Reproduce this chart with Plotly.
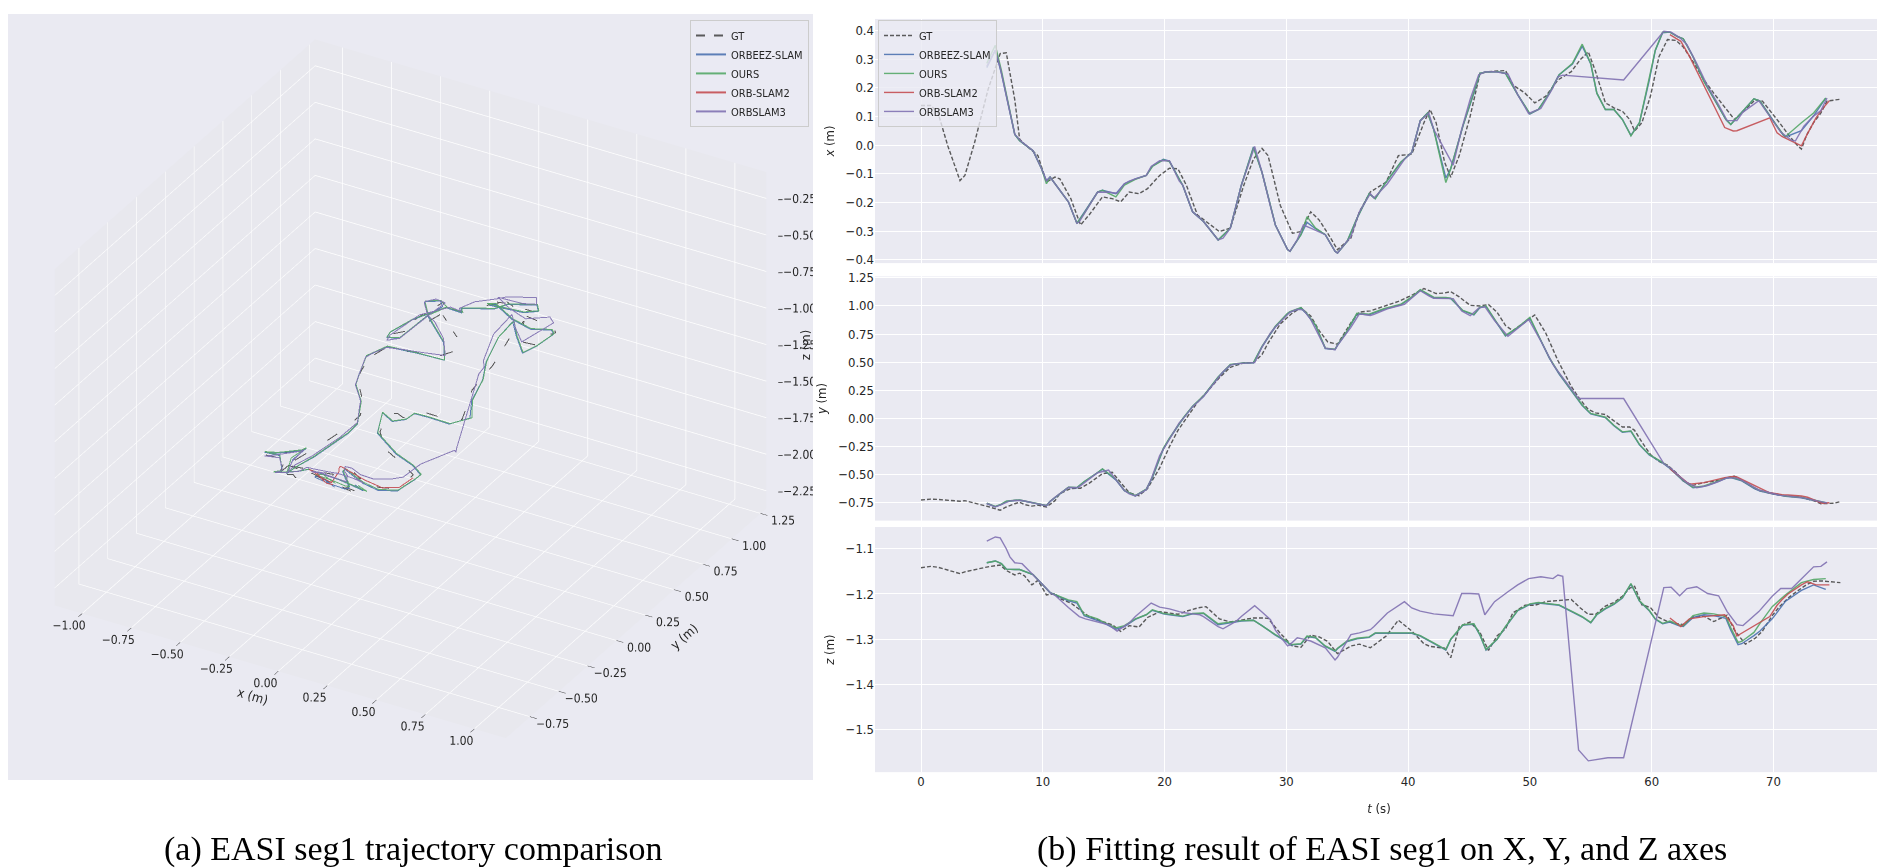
import plotly.graph_objects as go

# ---- ground truth (time in s, position in m) ----
gt_t = [0.0, 0.8, 1.4, 2.2, 3.2, 3.6, 4.4, 5.5, 6.5, 7.0,
        7.7, 8.1, 8.5, 9.1, 9.6, 10.3, 11.0, 11.4, 12.3, 13.1,
        13.8, 14.9, 15.7, 16.4, 17.1, 17.9, 18.6, 19.6, 20.4, 21.1,
        21.8, 22.7, 23.4, 24.5, 25.4, 26.5, 27.3, 28.0, 28.5, 29.5,
        30.5, 31.2, 32.0, 32.7, 33.4, 34.2, 35.3, 36.0, 36.9, 38.2,
        39.2, 40.3, 41.3, 41.8, 42.3, 43.0, 43.5, 44.2, 45.1, 45.9,
        46.6, 47.3, 48.0, 48.6, 49.6, 50.4, 51.3, 52.3, 53.4, 54.1,
        54.8, 55.4, 56.2, 56.9, 57.6, 58.2, 58.6, 59.2, 59.9, 60.6,
        61.3, 62.0, 62.6, 63.4, 64.3, 65.1, 66.2, 66.8, 67.7, 68.5,
        69.1, 69.9, 70.5, 71.3, 72.0, 72.3, 72.7, 73.3, 73.9, 74.4,
        75.0, 75.5]
gt_x = [0.138, 0.138, 0.112, -0.003, -0.124, -0.106, 0.009, 0.193, 0.319, 0.322,
        0.158, 0.020, 0.003, -0.020, -0.037, -0.129, -0.112, -0.118, -0.187, -0.279,
        -0.244, -0.181, -0.187, -0.198, -0.164, -0.170, -0.152, -0.106, -0.081, -0.083,
        -0.141, -0.244, -0.267, -0.302, -0.290, -0.141, -0.049, -0.012, -0.037, -0.210,
        -0.308, -0.302, -0.233, -0.262, -0.308, -0.365, -0.325, -0.233, -0.164, -0.129,
        -0.037, -0.032, 0.078, 0.124, 0.078, -0.060, -0.112, -0.037, 0.101, 0.250,
        0.256, 0.258, 0.260, 0.210, 0.181, 0.147, 0.170, 0.227, 0.256, 0.296,
        0.325, 0.256, 0.147, 0.130, 0.118, 0.089, 0.049, 0.078, 0.170, 0.308,
        0.368, 0.365, 0.342, 0.291, 0.227, 0.181, 0.124, 0.089, 0.124, 0.158,
        0.153, 0.112, 0.078, 0.032, -0.003, -0.014, 0.032, 0.078, 0.112, 0.153,
        0.156, 0.160]
gt_y = [-0.724, -0.716, -0.719, -0.728, -0.735, -0.730, -0.750, -0.782, -0.815, -0.786,
        -0.757, -0.744, -0.765, -0.778, -0.770, -0.786, -0.730, -0.667, -0.622, -0.619,
        -0.576, -0.490, -0.478, -0.568, -0.660, -0.686, -0.622, -0.439, -0.250, -0.105,
        0.008, 0.143, 0.226, 0.362, 0.455, 0.494, 0.497, 0.568, 0.670, 0.840,
        0.937, 0.982, 0.910, 0.780, 0.680, 0.660, 0.850, 0.945, 0.956, 1.005,
        1.040, 1.095, 1.154, 1.133, 1.110, 1.115, 1.127, 1.080, 1.005, 1.000,
        1.012, 0.945, 0.826, 0.780, 0.860, 0.920, 0.760, 0.515, 0.285, 0.172,
        0.080, 0.050, 0.035, -0.020, -0.076, -0.076, -0.105, -0.210, -0.320, -0.381,
        -0.415, -0.480, -0.555, -0.594, -0.570, -0.558, -0.530, -0.512, -0.568, -0.624,
        -0.648, -0.670, -0.680, -0.690, -0.698, -0.700, -0.712, -0.730, -0.757, -0.758,
        -0.753, -0.738]
gt_z = [-1.142, -1.139, -1.141, -1.147, -1.155, -1.151, -1.146, -1.140, -1.136, -1.148,
        -1.158, -1.154, -1.160, -1.180, -1.170, -1.202, -1.199, -1.210, -1.220, -1.235,
        -1.250, -1.261, -1.268, -1.283, -1.270, -1.273, -1.252, -1.239, -1.242, -1.245,
        -1.238, -1.231, -1.228, -1.255, -1.262, -1.257, -1.253, -1.253, -1.254, -1.287,
        -1.315, -1.318, -1.291, -1.295, -1.305, -1.332, -1.315, -1.311, -1.319, -1.293,
        -1.258, -1.282, -1.310, -1.316, -1.317, -1.320, -1.341, -1.272, -1.262, -1.285,
        -1.325, -1.293, -1.277, -1.242, -1.225, -1.225, -1.217, -1.214, -1.212, -1.230,
        -1.245, -1.245, -1.227, -1.219, -1.205, -1.187, -1.183, -1.224, -1.230, -1.252,
        -1.261, -1.265, -1.268, -1.251, -1.249, -1.261, -1.247, -1.280, -1.311, -1.298,
        -1.282, -1.248, -1.228, -1.207, -1.192, -1.187, -1.180, -1.172, -1.171, -1.172,
        -1.173, -1.175]

# ---- OURS ----
ours_t = [5.4, 6.1, 6.6, 7.0, 7.7, 8.1, 9.2, 9.9, 10.3, 10.6,
          12.1, 12.8, 13.4, 14.5, 14.9, 16.0, 16.7, 17.6, 18.5, 19.0,
          19.9, 20.4, 21.5, 22.3, 23.2, 24.4, 25.4, 26.3, 27.3, 28.0,
          29.1, 30.1, 30.3, 31.2, 31.7, 32.4, 33.2, 34.0, 34.2, 35.0,
          35.8, 36.8, 37.3, 38.0, 39.4, 40.3, 41.0, 41.6, 42.1, 43.1,
          43.5, 44.5, 45.4, 45.9, 46.4, 47.3, 48.0, 49.0, 50.0, 50.7,
          51.6, 52.4, 53.5, 54.3, 55.0, 55.5, 56.2, 56.9, 57.6, 58.3,
          59.0, 59.8, 60.3, 60.9, 61.5, 62.2, 62.6, 63.4, 64.3, 65.1,
          66.1, 66.5, 67.1, 67.4, 68.4, 68.9, 69.9, 70.8, 71.0, 72.3,
          73.3, 74.3]
ours_x = [0.285, 0.348, 0.260, 0.180, 0.037, 0.015, -0.020, -0.083, -0.135, -0.112,
          -0.198, -0.273, -0.238, -0.164, -0.158, -0.181, -0.140, -0.120, -0.106, -0.075,
          -0.052, -0.058, -0.141, -0.233, -0.267, -0.331, -0.290, -0.141, -0.009, -0.095,
          -0.279, -0.365, -0.371, -0.313, -0.250, -0.290, -0.313, -0.371, -0.377, -0.336,
          -0.256, -0.170, -0.187, -0.141, -0.060, -0.026, 0.085, 0.112, 0.055, -0.131,
          -0.083, 0.066, 0.181, 0.250, 0.255, 0.256, 0.250, 0.176, 0.110, 0.124,
          0.181, 0.245, 0.285, 0.352, 0.285, 0.181, 0.124, 0.124, 0.089, 0.032,
          0.078, 0.227, 0.331, 0.394, 0.394, 0.377, 0.371, 0.308, 0.222, 0.164,
          0.089, 0.072, 0.100, 0.112, 0.161, 0.153, 0.089, 0.037, 0.030, 0.078,
          0.112, 0.164]
ours_y = [-0.753, -0.782, -0.760, -0.735, -0.726, -0.724, -0.748, -0.765, -0.773, -0.735,
          -0.610, -0.613, -0.560, -0.480, -0.447, -0.540, -0.640, -0.686, -0.628, -0.520,
          -0.265, -0.175, 0.000, 0.110, 0.201, 0.370, 0.480, 0.492, 0.497, 0.640,
          0.820, 0.935, 0.950, 0.985, 0.930, 0.830, 0.625, 0.615, 0.655, 0.780,
          0.935, 0.927, 0.950, 0.975, 1.015, 1.080, 1.145, 1.110, 1.078, 1.075,
          1.070, 0.960, 0.925, 0.990, 1.000, 0.850, 0.738, 0.811, 0.898, 0.740,
          0.540, 0.400, 0.240, 0.120, 0.045, 0.030, 0.012, -0.060, -0.119, -0.110,
          -0.230, -0.320, -0.350, -0.390, -0.440, -0.510, -0.550, -0.612, -0.599, -0.570,
          -0.527, -0.520, -0.540, -0.550, -0.615, -0.640, -0.665, -0.686, -0.688, -0.700,
          -0.725, -0.748]
ours_z = [-1.131, -1.127, -1.133, -1.145, -1.146, -1.146, -1.157, -1.177, -1.190, -1.197,
          -1.213, -1.217, -1.246, -1.255, -1.261, -1.275, -1.270, -1.255, -1.246, -1.235,
          -1.243, -1.245, -1.249, -1.243, -1.242, -1.266, -1.262, -1.259, -1.258, -1.270,
          -1.290, -1.305, -1.312, -1.310, -1.293, -1.296, -1.315, -1.326, -1.320, -1.304,
          -1.298, -1.295, -1.286, -1.286, -1.286, -1.286, -1.292, -1.300, -1.308, -1.323,
          -1.300, -1.268, -1.266, -1.290, -1.323, -1.300, -1.272, -1.236, -1.222, -1.219,
          -1.222, -1.224, -1.239, -1.250, -1.263, -1.245, -1.232, -1.222, -1.208, -1.177,
          -1.215, -1.236, -1.255, -1.265, -1.260, -1.268, -1.270, -1.248, -1.242, -1.244,
          -1.250, -1.275, -1.307, -1.305, -1.285, -1.265, -1.228, -1.207, -1.202, -1.175,
          -1.168, -1.166]

# ---- ORBEEZ-SLAM (same time stamps as OURS) ----
orbeez_t = ours_t
orbeez_x = [0.270, 0.331, 0.250, 0.175, 0.037, 0.015, -0.020, -0.083, -0.125, -0.112,
            -0.198, -0.273, -0.236, -0.164, -0.158, -0.170, -0.135, -0.118, -0.106, -0.073,
            -0.050, -0.056, -0.141, -0.233, -0.267, -0.331, -0.290, -0.141, -0.007, -0.095,
            -0.279, -0.365, -0.371, -0.313, -0.270, -0.292, -0.313, -0.371, -0.377, -0.336,
            -0.256, -0.170, -0.187, -0.141, -0.060, -0.026, 0.085, 0.112, 0.055, -0.115,
            -0.083, 0.066, 0.181, 0.250, 0.255, 0.256, 0.250, 0.176, 0.108, 0.124,
            0.181, 0.245, 0.283, 0.345, 0.283, 0.181, 0.124, 0.124, 0.089, 0.034,
            0.078, 0.225, 0.330, 0.392, 0.394, 0.377, 0.371, 0.308, 0.222, 0.164,
            0.089, 0.072, 0.100, 0.112, 0.161, 0.153, 0.089, 0.035, 0.028, 0.050,
            0.102, 0.164]
orbeez_y = [-0.755, -0.785, -0.762, -0.737, -0.728, -0.726, -0.750, -0.767, -0.775, -0.737,
            -0.612, -0.615, -0.562, -0.482, -0.450, -0.545, -0.642, -0.688, -0.630, -0.525,
            -0.270, -0.178, -0.003, 0.107, 0.198, 0.366, 0.476, 0.490, 0.495, 0.636,
            0.815, 0.930, 0.945, 0.980, 0.925, 0.826, 0.622, 0.612, 0.650, 0.775,
            0.930, 0.922, 0.945, 0.970, 1.010, 1.075, 1.140, 1.105, 1.072, 1.070,
            1.065, 0.955, 0.920, 0.985, 0.995, 0.845, 0.733, 0.806, 0.890, 0.735,
            0.535, 0.395, 0.236, 0.116, 0.041, 0.026, 0.008, -0.064, -0.123, -0.114,
            -0.234, -0.324, -0.354, -0.394, -0.444, -0.515, -0.555, -0.616, -0.603, -0.574,
            -0.531, -0.524, -0.544, -0.554, -0.620, -0.645, -0.668, -0.690, -0.692, -0.704,
            -0.730, -0.752]
orbeez_z = [-1.131, -1.127, -1.133, -1.145, -1.146, -1.146, -1.157, -1.177, -1.190, -1.197,
            -1.215, -1.220, -1.248, -1.258, -1.263, -1.278, -1.272, -1.256, -1.246, -1.236,
            -1.244, -1.246, -1.250, -1.244, -1.243, -1.268, -1.264, -1.260, -1.258, -1.270,
            -1.291, -1.307, -1.313, -1.311, -1.294, -1.297, -1.316, -1.327, -1.321, -1.305,
            -1.299, -1.296, -1.287, -1.287, -1.287, -1.287, -1.293, -1.301, -1.309, -1.324,
            -1.301, -1.269, -1.267, -1.291, -1.324, -1.301, -1.273, -1.237, -1.223, -1.220,
            -1.223, -1.225, -1.240, -1.251, -1.264, -1.246, -1.233, -1.223, -1.209, -1.178,
            -1.216, -1.237, -1.256, -1.266, -1.262, -1.270, -1.272, -1.252, -1.246, -1.248,
            -1.254, -1.280, -1.312, -1.310, -1.292, -1.282, -1.255, -1.222, -1.216, -1.192,
            -1.180, -1.190]

# ---- ORB-SLAM2 (only tracked near the end) ----
orbslam2_t = [61.5, 62.4, 63.1, 64.3, 65.2, 66.0, 66.7, 67.0, 69.7, 70.3,
              70.7, 71.2, 72.3, 72.8, 73.5, 74.0, 74.6]
orbslam2_x = [0.385, 0.362, 0.310, 0.210, 0.130, 0.061, 0.049, 0.050, 0.095, 0.043,
              0.030, 0.020, -0.003, 0.040, 0.095, 0.125, 0.155]
orbslam2_y = [-0.445, -0.525, -0.584, -0.570, -0.545, -0.525, -0.515, -0.520, -0.660, -0.671,
              -0.676, -0.680, -0.688, -0.700, -0.735, -0.753, -0.748]
orbslam2_z = [-1.253, -1.272, -1.255, -1.250, -1.248, -1.246, -1.270, -1.293, -1.250, -1.225,
              -1.213, -1.200, -1.180, -1.173, -1.180, -1.180, -1.180]

# ---- ORBSLAM3 ----
orbslam3_t = [5.4, 6.1, 6.5, 7.0, 7.3, 7.7, 8.3, 9.2, 9.9, 10.3,
              10.6, 11.0, 12.1, 12.8, 13.0, 13.5, 14.5, 15.4, 16.1, 16.7,
              17.1, 17.6, 18.5, 18.9, 19.6, 20.4, 21.2, 21.5, 22.3, 22.9,
              23.2, 24.4, 24.8, 25.4, 25.9, 26.3, 27.4, 28.0, 28.7, 29.1,
              30.1, 30.3, 30.9, 31.4, 32.0, 33.2, 34.0, 34.2, 35.3, 36.0,
              36.9, 37.2, 38.3, 39.7, 40.3, 41.0, 41.7, 42.1, 43.7, 44.4,
              45.1, 45.8, 46.3, 47.1, 48.2, 49.0, 49.9, 50.9, 51.9, 52.3,
              52.7, 54.0, 54.8, 56.4, 57.7, 61.0, 61.6, 62.3, 62.9, 63.7,
              64.6, 65.5, 66.2, 67.0, 67.5, 68.8, 69.9, 70.6, 71.5, 71.8,
              72.5, 73.3, 73.9, 74.4]
orbslam3_x = [0.275, 0.331, 0.270, 0.175, 0.115, 0.037, 0.010, -0.020, -0.083, -0.125,
              -0.112, -0.135, -0.198, -0.273, -0.268, -0.233, -0.164, -0.165, -0.168, -0.135,
              -0.126, -0.118, -0.106, -0.075, -0.055, -0.055, -0.125, -0.141, -0.233, -0.255,
              -0.267, -0.331, -0.325, -0.290, -0.210, -0.141, -0.005, -0.095, -0.215, -0.279,
              -0.365, -0.371, -0.330, -0.279, -0.290, -0.313, -0.371, -0.377, -0.320, -0.233,
              -0.170, -0.185, -0.135, -0.050, -0.026, 0.085, 0.112, 0.055, -0.070, 0.055,
              0.160, 0.245, 0.255, 0.256, 0.248, 0.176, 0.110, 0.128, 0.200, 0.238,
              0.244, 0.240, 0.238, 0.232, 0.227, 0.397, 0.394, 0.375, 0.350, 0.285,
              0.205, 0.140, 0.085, 0.085, 0.115, 0.155, 0.089, 0.045, 0.016, 0.014,
              0.066, 0.101, 0.120, 0.164]
orbslam3_y = [-0.755, -0.785, -0.770, -0.742, -0.732, -0.728, -0.728, -0.750, -0.768, -0.775,
              -0.738, -0.700, -0.612, -0.615, -0.605, -0.565, -0.482, -0.458, -0.555, -0.640,
              -0.670, -0.688, -0.632, -0.540, -0.330, -0.180, -0.040, -0.005, 0.105, 0.165,
              0.195, 0.360, 0.415, 0.475, 0.488, 0.490, 0.497, 0.635, 0.760, 0.812,
              0.930, 0.945, 0.970, 0.965, 0.880, 0.625, 0.612, 0.650, 0.810, 0.930,
              0.915, 0.925, 0.975, 1.015, 1.070, 1.135, 1.090, 1.068, 1.065, 0.955,
              0.913, 0.980, 0.995, 0.870, 0.730, 0.800, 0.880, 0.690, 0.480, 0.420,
              0.365, 0.177, 0.177, 0.178, 0.177, -0.400, -0.445, -0.515, -0.570, -0.615,
              -0.595, -0.560, -0.525, -0.530, -0.555, -0.635, -0.665, -0.683, -0.692, -0.695,
              -0.705, -0.725, -0.742, -0.750]
orbslam3_z = [-1.083, -1.074, -1.076, -1.100, -1.118, -1.131, -1.133, -1.157, -1.177, -1.188,
              -1.197, -1.203, -1.230, -1.245, -1.250, -1.255, -1.262, -1.268, -1.282, -1.272,
              -1.264, -1.250, -1.228, -1.220, -1.229, -1.233, -1.239, -1.241, -1.244, -1.246,
              -1.250, -1.272, -1.277, -1.268, -1.260, -1.250, -1.226, -1.240, -1.257, -1.280,
              -1.315, -1.312, -1.297, -1.300, -1.304, -1.319, -1.346, -1.340, -1.290, -1.286,
              -1.279, -1.272, -1.242, -1.217, -1.231, -1.238, -1.242, -1.244, -1.248, -1.199,
              -1.199, -1.200, -1.246, -1.217, -1.195, -1.180, -1.166, -1.162, -1.166, -1.158,
              -1.161, -1.545, -1.569, -1.562, -1.562, -1.186, -1.185, -1.204, -1.188, -1.184,
              -1.199, -1.204, -1.239, -1.268, -1.270, -1.239, -1.205, -1.188, -1.188, -1.180,
              -1.162, -1.140, -1.139, -1.129]

# 3D axis limits and ticks
x3_range = [-1.14, 1.16]
y3_range = [-0.96, 1.30]
z3_range = [-2.37, -0.07]
x3_ticks = [-1.0, -0.75, -0.5, -0.25, 0.0, 0.25, 0.5, 0.75, 1.0]
y3_ticks = [-0.75, -0.5, -0.25, 0.0, 0.25, 0.5, 0.75, 1.0, 1.25]
z3_ticks = [-2.25, -2.0, -1.75, -1.5, -1.25, -1.0, -0.75, -0.5, -0.25]

series = [
    ("GT", gt_t, gt_x, gt_y, gt_z, "#4a4a4a", "dash"),
    ("ORBEEZ-SLAM", orbeez_t, orbeez_x, orbeez_y, orbeez_z, "#4C72B0", "solid"),
    ("OURS", ours_t, ours_x, ours_y, ours_z, "#55A868", "solid"),
    ("ORB-SLAM2", orbslam2_t, orbslam2_x, orbslam2_y, orbslam2_z, "#C44E52", "solid"),
    ("ORBSLAM3", orbslam3_t, orbslam3_x, orbslam3_y, orbslam3_z, "#8172B2", "solid"),
]

W, H = 1885, 868
BG = "#EAEAF2"
SANS = "Liberation Sans Narrow, DejaVu Sans Condensed, Arial Narrow, sans-serif"
TXT = "#262626"
tick_font = dict(family=SANS, size=13, color=TXT)

fig = go.Figure()

# 3D trajectories
for name, t, xs, ys, zs, color, dash in series:
    fig.add_trace(go.Scatter3d(
        x=xs, y=ys, z=zs, mode="lines", name=name, legend="legend2",
        line=dict(color=color, width=2, dash=dash), opacity=0.9, hoverinfo="skip"
    ))

# z tick labels on the right-hand vertical edge, as matplotlib draws them
fig.add_trace(go.Scatter3d(
    x=[x3_range[1]] * len(z3_ticks), y=[y3_range[1]] * len(z3_ticks), z=z3_ticks,
    mode="text", text=["\u2013" + f"{v:.2f}".replace("-", "\u2212") for v in z3_ticks],
    textposition="middle right", textfont=dict(family=SANS, size=12, color=TXT),
    showlegend=False, hoverinfo="skip"
))

# per-axis curves: x on top, y in the middle, z at the bottom
panels = [(2, "x3", "y3"), (3, "x2", "y2"), (4, "x", "y")]
for name, t, xs, ys, zs, color, dash in series:
    cols = {2: xs, 3: ys, 4: zs}
    for k, xa, ya in panels:
        fig.add_trace(go.Scatter(
            x=t, y=cols[k], mode="lines", name=name, xaxis=xa, yaxis=ya,
            legendgroup=name, showlegend=(k == 2),
            line=dict(color=color, width=1.4, dash="4px,2px" if dash == "dash" else "solid"),
            opacity=0.9
        ))

x_dom = [867 / W, 1875 / W]
t_ticks = [0, 10, 20, 30, 40, 50, 60, 70]
common_x = dict(domain=x_dom, range=[-3.78, 79.0], tickvals=t_ticks, showgrid=True,
                gridcolor="white", gridwidth=1.3, zeroline=False, showline=False,
                tickfont=tick_font, ticks="")
common_y = dict(showgrid=True, gridcolor="white", gridwidth=1.3, zeroline=False,
                showline=False, tickfont=tick_font, ticks="", title_standoff=8)


def pix(top, bottom):
    return [1 - bottom / H, 1 - top / H]


axis3d = dict(showbackground=True, backgroundcolor="#E8E8EE", gridcolor="white",
              gridwidth=1.5, zeroline=False, showline=False, showspikes=False,
              tickfont=dict(family=SANS, size=12, color=TXT), tickangle=0,
              ticks="outside", ticklen=8, tickcolor=TXT, tickformat=".2f")

k_eye = 2.0
s_box = 1.36
fig.update_layout(
    width=W, height=H, margin=dict(l=0, r=0, t=0, b=0),
    paper_bgcolor="white", plot_bgcolor=BG,
    showlegend=True,
    xaxis=dict(common_x, anchor="y",
               title=dict(text="<i>t</i> (s)", font=dict(family=SANS, size=13, color=TXT))),
    xaxis2=dict(common_x, anchor="y2", matches="x", showticklabels=False),
    xaxis3=dict(common_x, anchor="y3", matches="x", showticklabels=False),
    yaxis=dict(common_y, domain=pix(519, 767), range=[-1.594, -1.052],
               tickvals=[-1.5, -1.4, -1.3, -1.2, -1.1], tickformat=".1f",
               title=dict(text="<i>z</i> (m)", font=dict(family=SANS, size=13, color=TXT))),
    yaxis2=dict(common_y, domain=pix(265.5, 512.5), range=[-0.907, 1.262],
                tickvals=[-0.75, -0.5, -0.25, 0, 0.25, 0.5, 0.75, 1.0, 1.25], tickformat=".2f",
                title=dict(text="<i>y</i> (m)", font=dict(family=SANS, size=13, color=TXT))),
    yaxis3=dict(common_y, domain=pix(5, 252), range=[-0.412, 0.44],
                tickvals=[-0.4, -0.3, -0.2, -0.1, 0, 0.1, 0.2, 0.3, 0.4], tickformat=".1f",
                title=dict(text="<i>x</i> (m)", font=dict(family=SANS, size=13, color=TXT))),
    legend=dict(x=870 / W, y=1 - 6 / H, xanchor="left", yanchor="top",
                bgcolor="rgba(234,234,242,0.8)", bordercolor="#cccccc", borderwidth=1,
                font=dict(family=SANS, size=11, color=TXT), tracegroupgap=0, itemwidth=30),
    legend2=dict(x=682 / W, y=1 - 6 / H, xanchor="left", yanchor="top",
                 bgcolor="rgba(234,234,242,0.8)", bordercolor="#cccccc", borderwidth=1,
                 font=dict(family=SANS, size=11, color=TXT), itemwidth=30),
    scene=dict(
        domain=dict(x=[0, 805 / W], y=pix(0, 775)),
        bgcolor=BG,
        aspectmode="manual", aspectratio=dict(x=s_box, y=s_box, z=0.75 * s_box),
        camera=dict(eye=dict(x=0.433 * k_eye, y=-0.75 * k_eye, z=0.5 * k_eye),
                    center=dict(x=0, y=0, z=-0.025), up=dict(x=0, y=0, z=1),
                    projection=dict(type="orthographic")),
        xaxis=dict(axis3d, range=x3_range, tickvals=x3_ticks,
                   title=dict(text="x (m)", font=dict(family=SANS, size=13, color=TXT))),
        yaxis=dict(axis3d, range=y3_range, tickvals=y3_ticks,
                   title=dict(text="y (m)", font=dict(family=SANS, size=13, color=TXT))),
        zaxis=dict(axis3d, range=z3_range, tickvals=z3_ticks, showticklabels=False,
                   ticks="", title=dict(text="")),
    ),
    shapes=[dict(type="rect", xref="paper", yref="paper", x0=0, x1=805 / W,
                 y0=1 - 775 / H, y1=1, fillcolor=BG, line_width=0, layer="below")],
    annotations=[
        dict(text="z (m)", xref="paper", yref="paper", x=797 / W, y=1 - 335 / H,
             xanchor="center", yanchor="middle", showarrow=False, textangle=-90,
             font=dict(family=SANS, size=13, color=TXT)),
        dict(text="(a) EASI seg1 trajectory comparison", xref="paper", yref="paper",
             x=405 / W, y=1 - 845 / H, xanchor="center", yanchor="middle", showarrow=False,
             font=dict(family="Liberation Serif, Times New Roman, serif", size=34, color="black")),
        dict(text="(b) Fitting result of EASI seg1 on X, Y, and Z axes", xref="paper", yref="paper",
             x=1374 / W, y=1 - 845 / H, xanchor="center", yanchor="middle", showarrow=False,
             font=dict(family="Liberation Serif, Times New Roman, serif", size=34, color="black")),
    ],
)

fig.write_html("out.html")
